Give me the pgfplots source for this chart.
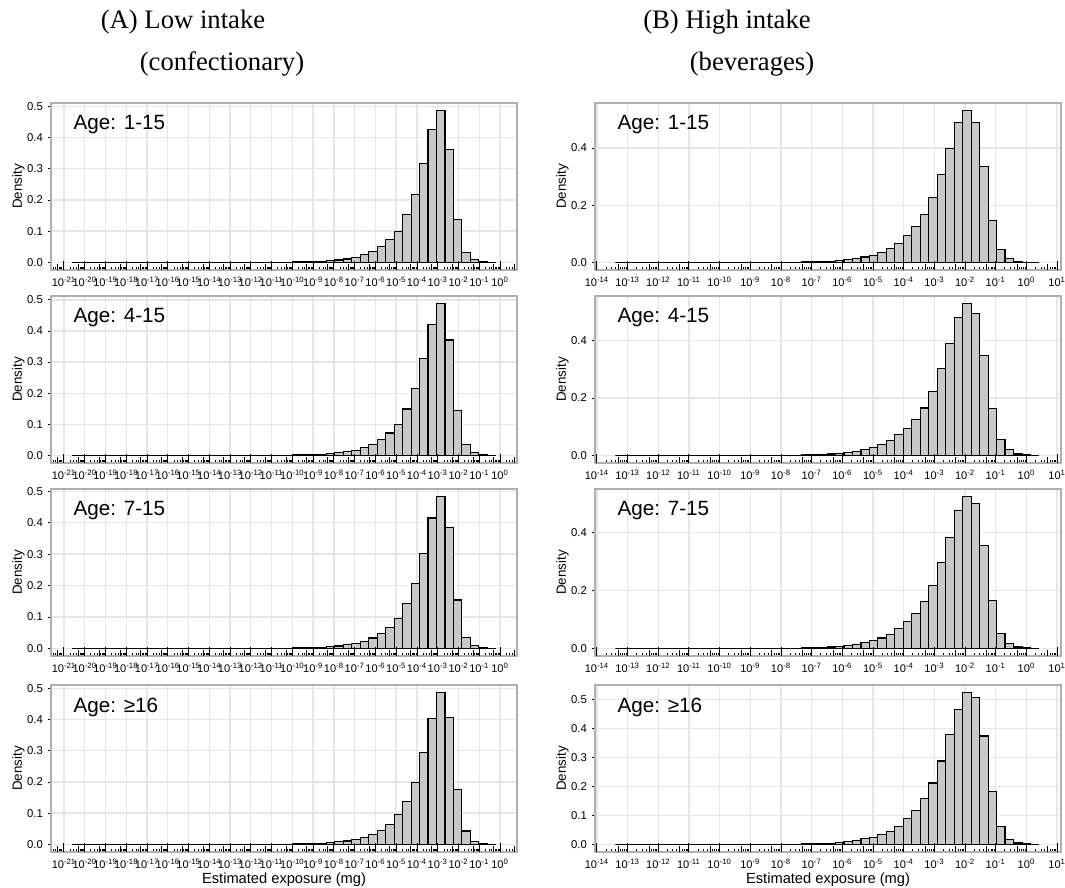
\documentclass[border=0pt]{standalone}
\usepackage{fontspec}
\setmainfont{Liberation Sans}
\newfontfamily\titlefont{Liberation Serif}
\usepackage{pgfplots}
\usepackage{pgfplotstable}
\pgfplotsset{compat=1.18}

\definecolor{gridc}{RGB}{230,230,230}
\definecolor{barfill}{RGB}{200,200,200}
\definecolor{border}{RGB}{175,175,175}

% histogram bins in log10(mg); last row only closes the last bin
\pgfplotstableread{
lx      a1     a2     a3     a4
-20.600 0      0      0      0
-20.192 0      0      0      0
-19.784 0      0      0      0
-19.376 0      0      0      0
-18.968 0      0      0      0
-18.560 0      0      0      0
-18.152 0      0      0      0
-17.744 0      0      0      0
-17.336 0      0      0      0
-16.928 0      0      0      0
-16.520 0      0      0      0
-16.112 0      0      0      0
-15.704 0      0      0      0
-15.296 0      0      0      0
-14.888 0      0      0      0
-14.480 0      0      0      0
-14.072 0      0      0      0
-13.664 0      0      0      0
-13.256 0      0      0      0
-12.848 0      0      0      0
-12.440 0.0001 0.0001 0.0001 0.0001
-12.032 0.0001 0.0001 0.0001 0.0001
-11.624 0.0002 0.0002 0.0002 0.0002
-11.216 0.0003 0.0004 0.0003 0.0004
-10.808 0.0005 0.0006 0.0005 0.0006
-10.400 0.0008 0.0009 0.0008 0.0009
-9.992  0.0012 0.0013 0.0012 0.0013
-9.584  0.0018 0.0020 0.0017 0.0020
-9.176  0.0025 0.0028 0.0025 0.0028
-8.768  0.0035 0.0040 0.0035 0.0040
-8.360  0.0050 0.0055 0.0050 0.0055
-7.952  0.0075 0.0080 0.0075 0.0080
-7.544  0.011  0.012  0.011  0.011
-7.136  0.015  0.017  0.016  0.015
-6.728  0.024  0.025  0.023  0.022
-6.320  0.034  0.035  0.033  0.032
-5.912  0.051  0.050  0.047  0.045
-5.504  0.073  0.072  0.066  0.065
-5.096  0.100  0.100  0.095  0.095
-4.688  0.152  0.149  0.143  0.137
-4.280  0.216  0.214  0.206  0.199
-3.872  0.316  0.311  0.302  0.293
-3.464  0.426  0.422  0.415  0.403
-3.056  0.486  0.488  0.483  0.486
-2.648  0.362  0.371  0.384  0.405
-2.240  0.137  0.145  0.154  0.176
-1.832  0.033  0.036  0.036  0.043
-1.424  0.009  0.010  0.009  0.008
-1.016  0.002  0.002  0.002  0.002
-0.608  0.0005 0.0005 0.0005 0.0005
-0.200  0      0      0      0
}\lowdata

\pgfplotstableread{
lx      b1     b2     b3     b4
-13.400 0      0      0      0
-13.124 0      0      0      0
-12.848 0      0      0      0
-12.571 0      0      0      0
-12.295 0      0      0      0
-12.019 0      0      0      0
-11.743 0      0      0      0
-11.467 0      0      0      0
-11.190 0      0      0      0
-10.914 0      0      0      0
-10.638 0      0      0      0
-10.362 0      0      0      0
-10.086 0      0      0      0
-9.809  0      0      0      0
-9.533  0      0      0      0
-9.257  0      0      0      0
-8.981  0      0      0      0
-8.705  0.0001 0.0001 0.0001 0.0001
-8.428  0.0002 0.0002 0.0002 0.0002
-8.152  0.0003 0.0003 0.0003 0.0003
-7.876  0.0005 0.0005 0.0005 0.0005
-7.600  0.0008 0.0009 0.0008 0.0008
-7.324  0.0013 0.0014 0.0013 0.0013
-7.047  0.0020 0.0022 0.0020 0.0020
-6.771  0.0030 0.0033 0.0032 0.0030
-6.495  0.0045 0.0050 0.0048 0.0045
-6.219  0.0065 0.0070 0.0070 0.0065
-5.943  0.010  0.011  0.010  0.009
-5.666  0.014  0.015  0.014  0.013
-5.390  0.019  0.021  0.020  0.019
-5.114  0.025  0.029  0.027  0.025
-4.838  0.035  0.039  0.036  0.034
-4.562  0.048  0.052  0.049  0.045
-4.285  0.066  0.072  0.068  0.062
-4.009  0.095  0.095  0.092  0.088
-3.733  0.125  0.126  0.122  0.117
-3.457  0.168  0.165  0.162  0.157
-3.181  0.227  0.223  0.218  0.212
-2.904  0.306  0.302  0.297  0.288
-2.628  0.398  0.391  0.385  0.378
-2.352  0.489  0.480  0.478  0.467
-2.076  0.531  0.529  0.525  0.524
-1.800  0.489  0.495  0.500  0.508
-1.524  0.336  0.348  0.355  0.374
-1.247  0.148  0.162  0.165  0.182
-0.971  0.046  0.054  0.052  0.062
-0.695  0.013  0.020  0.018  0.017
-0.419  0.004  0.005  0.005  0.005
-0.143  0.001  0.0015 0.0015 0.0015
0.133   0.0003 0.0004 0.0004 0.0004
0.410   0      0      0      0
}\highdata

% log ticks on the log10 scale: 2,3,4,6..9 short, 5 medium, decades long
\def\lgminor{-100}
\def\lgmid{-100}
\foreach \k in {-22,...,1}{%
  \foreach \m in {2,3,4,6,7,8,9}{%
    \pgfmathparse{\k+log10(\m)}%
    \xdef\lgminor{\lgminor,\pgfmathresult}}%
  \pgfmathparse{\k+log10(5)}%
  \xdef\lgmid{\lgmid,\pgfmathresult}}
\edef\tmp{\noexpand\pgfplotsset{shortticks/.style={minor xtick={\lgminor}},midticks/.style={minor xtick={\lgmid}}}}
\tmp

\pgfplotsset{
  frame/.style={scale only axis, width=349.5pt, height=125.25pt, anchor=north west},
  panel/.style={
    frame, shortticks,
    axis line style={draw=border, line width=0.8pt},
    xmajorgrids, ymajorgrids,
    major grid style={draw=gridc, line width=1pt},
    xtick pos=bottom, ytick pos=left,
    xtick align=inside, ytick align=outside,
    tick style={black, line width=0.6pt},
    major tick length=2.6pt, minor tick length=2.4pt,
    x tick label style={font=\fontsize{8.3}{9}\selectfont, yshift=-2pt},
    y tick label style={font=\fontsize{8.5}{9}\selectfont},
    xticklabel={10\textsuperscript{\pgfmathprintnumber[assume math mode=true,fixed,precision=0]{\tick}}},
    yticklabel style={/pgf/number format/.cd, fixed, fixed zerofill, precision=1, assume math mode=true},
    ylabel={Density},
    ylabel style={font=\fontsize{10}{12}\selectfont, at={([xshift=-24.5pt]rel axis cs:0,0.5)}, anchor=center},
    xlabel style={font=\fontsize{11}{13}\selectfont, at={([yshift=-21pt]rel axis cs:0.5,0)}, anchor=center},
  },
  % second axis on the same frame: long decade ticks and medium ticks at 5
  ovl/.style={
    frame, midticks, ymin=0, ymax=1, hide y axis,
    axis x line*=bottom, x axis line style={draw=none},
    tick align=inside, major tick length=6.5pt, minor tick length=4.2pt,
    tick style={black, line width=0.6pt}, xticklabel={\mbox{}},
  },
  lowx/.style={xmin=-21.62, xmax=0.82, xtick={-21,...,0}},
  highx/.style={xmin=-14.06, xmax=1.13, xtick={-14,...,1}},
  bars/.style={ybar interval, fill=barfill, draw=black, line width=0.85pt},
}
\tikzset{agelab/.style={anchor=west, font=\fontsize{15.5}{18}\selectfont, xshift=13.5pt, yshift=-16.5pt}}
\newcommand\logticks[2]{\begin{axis}[ovl, #2, at={#1}]\end{axis}}

\begin{document}
\begin{tikzpicture}
\path[use as bounding box] (0,0) rectangle (798.75pt,666pt);

% column A: confectionary
\begin{axis}[panel, lowx, at={(38.25pt,588.75pt)}, ymin=-0.0243, ymax=0.5103, ytick={0,0.1,0.2,0.3,0.4,0.5}]
\addplot[bars] table[x=lx,y=a1]{\lowdata};
\node[agelab] at (rel axis cs:0,1) {Age: 1-15};
\end{axis}
\logticks{(38.25pt,588.75pt)}{lowx}
\begin{axis}[panel, lowx, at={(38.25pt,444pt)}, ymin=-0.0244, ymax=0.5124, ytick={0,0.1,0.2,0.3,0.4,0.5}]
\addplot[bars] table[x=lx,y=a2]{\lowdata};
\node[agelab] at (rel axis cs:0,1) {Age: 4-15};
\end{axis}
\logticks{(38.25pt,444pt)}{lowx}
\begin{axis}[panel, lowx, at={(38.25pt,299.25pt)}, ymin=-0.0242, ymax=0.5072, ytick={0,0.1,0.2,0.3,0.4,0.5}]
\addplot[bars] table[x=lx,y=a3]{\lowdata};
\node[agelab] at (rel axis cs:0,1) {Age: 7-15};
\end{axis}
\logticks{(38.25pt,299.25pt)}{lowx}
\begin{axis}[panel, lowx, at={(38.25pt,152.25pt)}, ymin=-0.0243, ymax=0.5103, ytick={0,0.1,0.2,0.3,0.4,0.5},
  xlabel={Estimated exposure (mg)}]
\addplot[bars] table[x=lx,y=a4]{\lowdata};
\node[agelab] at (rel axis cs:0,1) {Age: ≥16};
\end{axis}
\logticks{(38.25pt,152.25pt)}{lowx}

% column B: beverages
\begin{axis}[panel, highx, at={(446.25pt,588.75pt)}, ymin=-0.0266, ymax=0.5576, ytick={0,0.2,0.4}]
\addplot[bars] table[x=lx,y=b1]{\highdata};
\node[agelab] at (rel axis cs:0,1) {Age: 1-15};
\end{axis}
\logticks{(446.25pt,588.75pt)}{highx}
\begin{axis}[panel, highx, at={(446.25pt,444pt)}, ymin=-0.0265, ymax=0.5555, ytick={0,0.2,0.4}]
\addplot[bars] table[x=lx,y=b2]{\highdata};
\node[agelab] at (rel axis cs:0,1) {Age: 4-15};
\end{axis}
\logticks{(446.25pt,444pt)}{highx}
\begin{axis}[panel, highx, at={(446.25pt,299.25pt)}, ymin=-0.0263, ymax=0.5513, ytick={0,0.2,0.4}]
\addplot[bars] table[x=lx,y=b3]{\highdata};
\node[agelab] at (rel axis cs:0,1) {Age: 7-15};
\end{axis}
\logticks{(446.25pt,299.25pt)}{highx}
\begin{axis}[panel, highx, at={(446.25pt,152.25pt)}, ymin=-0.0262, ymax=0.5502, ytick={0,0.1,0.2,0.3,0.4,0.5},
  xlabel={Estimated exposure (mg)}]
\addplot[bars] table[x=lx,y=b4]{\highdata};
\node[agelab] at (rel axis cs:0,1) {Age: ≥16};
\end{axis}
\logticks{(446.25pt,152.25pt)}{highx}

\node[font=\titlefont\fontsize{20}{24}\selectfont] at (137.25pt,649.5pt) {(A) Low intake};
\node[font=\titlefont\fontsize{20}{24}\selectfont] at (166.5pt,618pt) {(confectionary)};
\node[font=\titlefont\fontsize{20}{24}\selectfont] at (545.25pt,649.5pt) {(B) High intake};
\node[font=\titlefont\fontsize{20}{24}\selectfont] at (564pt,618pt) {(beverages)};
\end{tikzpicture}
\end{document}
